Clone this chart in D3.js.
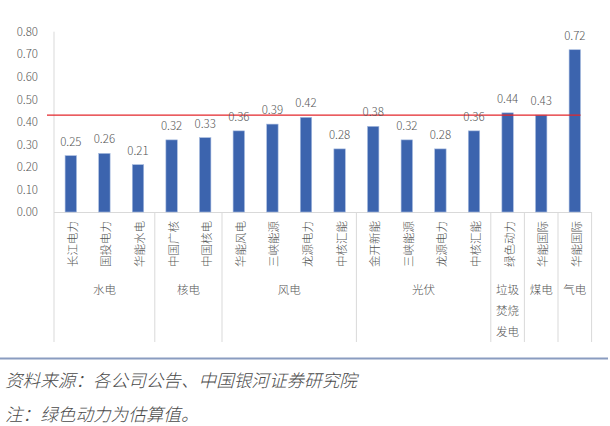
<!DOCTYPE html>
<html><head><meta charset="utf-8">
<script src="https://cdn.jsdelivr.net/npm/d3@7"></script>
<style>
html,body{margin:0;padding:0;background:#fff;}
svg{display:block;font-family:"Noto Sans CJK SC","Noto Sans",sans-serif;font-weight:300;}
</style></head>
<body><svg id="chart" width="610" height="426"></svg>
<script>
// ---- data ----
const companies = ["长江电力","国投电力","华能水电","中国广核","中国核电","华能风电","三峡能源","龙源电力","中核汇能","金开新能","三峡能源","龙源电力","中核汇能","绿色动力","华能国际","华能国际"];
const values = [0.25,0.26,0.21,0.32,0.33,0.36,0.39,0.42,0.28,0.38,0.32,0.28,0.36,0.44,0.43,0.72];
const groupLabels = [["水电"],["核电"],["风电"],["光伏"],["垃圾","焚烧","发电"],["煤电"],["气电"]];
const groupSizes = [3,2,4,4,1,1,1];
const yTicks = [0,0.1,0.2,0.3,0.4,0.5,0.6,0.7,0.8];
const averageValue = 0.43;
const sourceNote = "资料来源：各公司公告、中国银河证券研究院";
const footNote = "注：绿色动力为估算值。";

// ---- layout ----
const svg = d3.select("#chart");
const plotL = 54, plotR = 591.6, plotT = 31.7, base = 212, catBottom = 342;
const idx = d3.range(companies.length);
const x = d3.scaleBand().domain(idx).range([plotL, plotR]).paddingInner(0.66).paddingOuter(0.33);
const y = d3.scaleLinear().domain([0, 0.8]).range([base, plotT]);
const step = x.step();
const txt = "#555555";

// y axis labels
const yAxis = d3.axisLeft(y).tickValues(yTicks).tickFormat(d3.format(".2f")).tickSize(0).tickPadding(0);
const gy = svg.append("g").attr("transform", `translate(38,0)`).call(yAxis);
gy.select(".domain").remove();
gy.selectAll("text").attr("fill", txt).style("font-size", "11.5px")
  .style("font-family", "'Noto Sans CJK SC',sans-serif").style("font-weight", "300");

// axis lines
svg.append("line").attr("x1", plotL).attr("x2", plotL).attr("y1", plotT).attr("y2", catBottom)
  .attr("stroke", "#d9d9d9").attr("stroke-width", 1);
svg.append("line").attr("x1", plotL).attr("x2", plotR).attr("y1", base + 0.5).attr("y2", base + 0.5)
  .attr("stroke", "#d9d9d9").attr("stroke-width", 1);

// group dividers
let cum = 0;
const bounds = groupSizes.map(s => { cum += s; return cum; });
svg.selectAll("line.div").data(bounds).enter().append("line").attr("class", "div")
  .attr("x1", d => plotL + d * step).attr("x2", d => plotL + d * step)
  .attr("y1", base).attr("y2", catBottom)
  .attr("stroke", "#d9d9d9").attr("stroke-width", 1);

// bars
svg.selectAll("rect.bar").data(values).enter().append("rect").attr("class", "bar")
  .attr("x", (d, i) => x(i)).attr("width", x.bandwidth())
  .attr("y", d => y(d)).attr("height", d => base - y(d))
  .attr("fill", "#3c64ae").attr("stroke", "#a9bde0").attr("stroke-width", 0.6);

// average line
svg.append("line")
  .attr("x1", plotL - 7).attr("x2", x(idx[idx.length - 1]) + x.bandwidth())
  .attr("y1", y(averageValue)).attr("y2", y(averageValue))
  .attr("stroke", "#e3262b").attr("stroke-width", 1.2);

// value labels
svg.selectAll("text.val").data(values).enter().append("text").attr("class", "val")
  .attr("x", (d, i) => x(i) + x.bandwidth() / 2).attr("y", d => y(d) - 15)
  .attr("text-anchor", "middle").attr("dominant-baseline", "central")
  .attr("fill", txt).style("font-size", "11.5px").text(d => d3.format(".2f")(d));

// category labels (vertical)
svg.selectAll("text.cat").data(companies).enter().append("text").attr("class", "cat")
  .attr("transform", (d, i) => `translate(${x(i) + x.bandwidth() / 2 + 1},221) rotate(-90)`)
  .attr("text-anchor", "end").attr("dominant-baseline", "central")
  .attr("fill", txt).style("font-size", "11.5px").text(d => d);

// group labels
let start = 0;
groupLabels.forEach((lines, gi) => {
  const cx = plotL + (start + groupSizes[gi] / 2) * step;
  start += groupSizes[gi];
  lines.forEach((ln, li) => {
    svg.append("text").attr("x", cx).attr("y", 289 + li * 21)
      .attr("text-anchor", "middle").attr("dominant-baseline", "central")
      .attr("fill", txt).style("font-size", "11.5px").text(ln);
  });
});

// footer
svg.append("line").attr("x1", 0).attr("x2", 608).attr("y1", 358.5).attr("y2", 358.5)
  .attr("stroke", "#8a9cc0").attr("stroke-width", 2);
svg.append("text").attr("x", 5).attr("y", 379.5).attr("dominant-baseline", "central")
  .attr("fill", "#4a4a4a").style("font-size", "17.6px").style("font-style", "italic").text(sourceNote);
svg.append("text").attr("x", 5).attr("y", 413.5).attr("dominant-baseline", "central")
  .attr("fill", "#4a4a4a").style("font-size", "17.6px").style("font-style", "italic").text(footNote);
</script></body></html>
